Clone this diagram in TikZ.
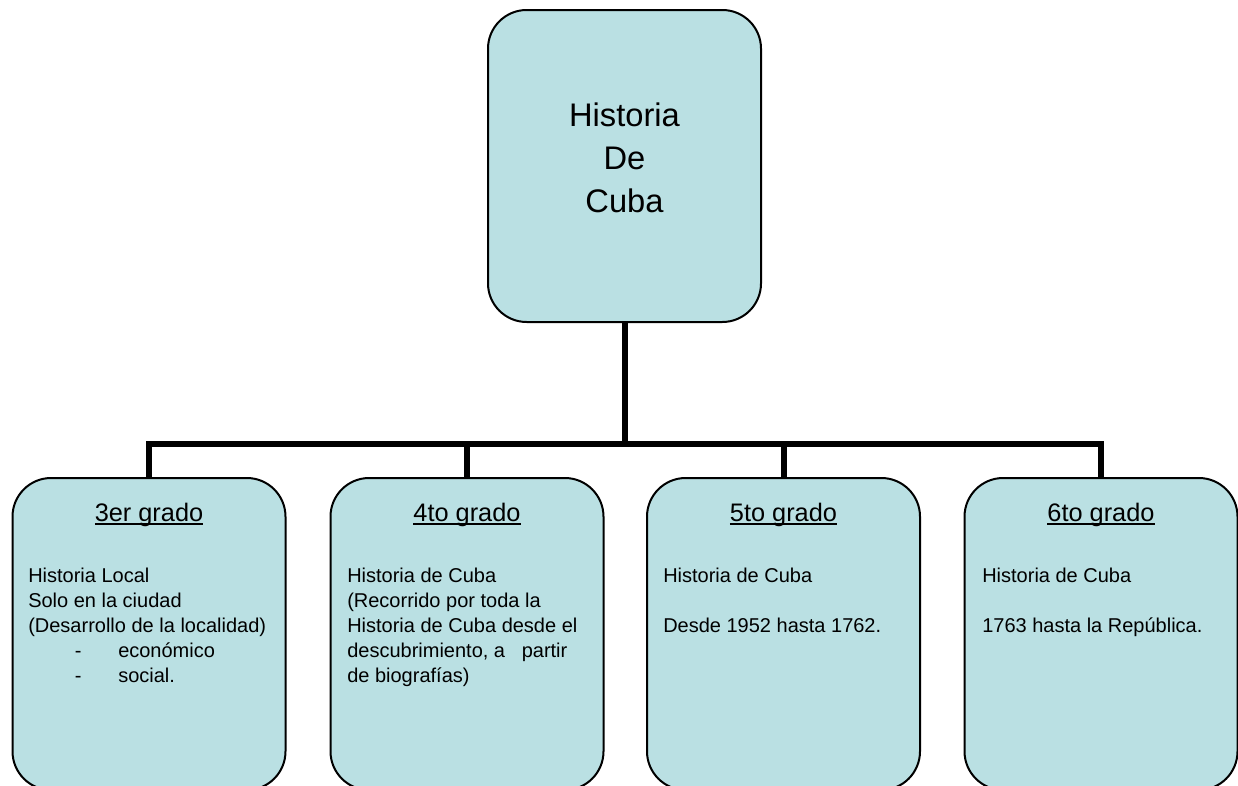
\documentclass[tikz,border=0pt]{standalone}
\usepackage{fontspec}
\setmainfont{Liberation Sans}
\definecolor{boxblue}{RGB}{186,224,227}
\newcommand\undl[1]{\setbox0\hbox{#1}\rlap{\rule[-3.2pt]{\wd0}{1.8pt}}\box0}
\newcommand\bulitem[1]{\makebox[67.5pt][l]{\hspace*{35pt}-}#1}
\begin{document}
\begin{tikzpicture}[x=0.75pt,y=-0.75pt,
  box/.style={draw=black, line width=1.5pt, fill=boxblue, rounded corners=29pt,
              minimum width=204.75pt, minimum height=234pt, inner sep=0pt},
  conn/.style={draw=black, line width=4.5pt, line join=miter},
  toptext/.style={font=\fontsize{24.5}{32.25}\selectfont, align=center, inner sep=0pt, anchor=north},
  ttl/.style={font=\fontsize{19}{23}\selectfont, inner sep=0pt, anchor=base},
  body/.style={font=\fontsize{15}{18.75}\selectfont, align=left, inner sep=0pt, anchor=north west}]
\useasboundingbox (0,0) rectangle (1238,785);
\fill[white] (0,0) rectangle (1238,785);
% boxes
\node[box] (top) at (624.5,166) {};
\node[box] (g3) at (149,634) {};
\node[box] (g4) at (467,634) {};
\node[box] (g5) at (783.5,634) {};
\node[box] (g6) at (1101,634) {};
% connectors
\coordinate (bar) at (0,444);
\draw[conn] (top.south) -- (top.south |- bar);
\draw[conn] (g3.north) -- (g3.north |- bar) -- (g6.north |- bar) -- (g6.north);
\draw[conn] (g4.north) -- (g4.north |- bar);
\draw[conn] (g5.north) -- (g5.north |- bar);
% texts
\node[toptext] (toptxt) at (624.5,103) {Historia\\De\\Cuba};
\node[ttl] (t3) at (149,521) {\undl{3er grado}};
\node[ttl] (t4) at (467,521) {\undl{4to grado}};
\node[ttl] (t5) at (783.5,521) {\undl{5to grado}};
\node[ttl] (t6) at (1101,521) {\undl{6to grado}};
\node[body] (b3) at (28,568) {Historia Local\\Solo en la ciudad\\(Desarrollo de la localidad)\\\bulitem{económico}\\\bulitem{social.}};
\node[body] (b4) at (347,568) {Historia de Cuba\\(Recorrido por toda la\\Historia de Cuba desde el\\descubrimiento, a\ \ \ partir\\de biografías)};
\node[body] (b5) at (663,568) {Historia de Cuba\\[18.75pt]Desde 1952 hasta 1762.};
\node[body] (b6) at (982,568) {Historia de Cuba\\[18.75pt]1763 hasta la República.};
\end{tikzpicture}
\end{document}
